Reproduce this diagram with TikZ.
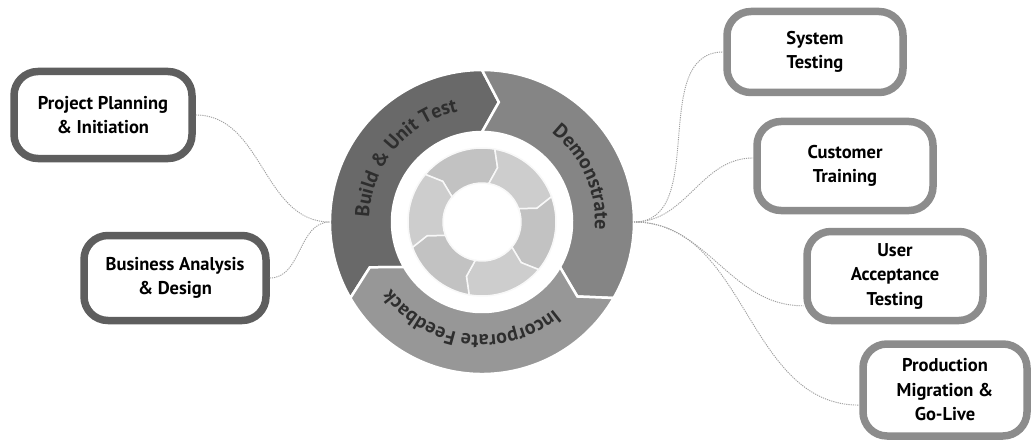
\documentclass[tikz,border=0pt]{standalone}
\usepackage{fontspec}
\setmainfont{PT Sans}
\usetikzlibrary{decorations.text}
\definecolor{segA}{HTML}{696969}
\definecolor{segB}{HTML}{858585}
\definecolor{segC}{HTML}{979797}
\definecolor{innerA}{HTML}{C2C2C2}
\definecolor{innerB}{HTML}{CDCDCD}
\definecolor{ringtext}{HTML}{2E2E2E}
\definecolor{boxdark}{HTML}{5E5E5E}
\definecolor{boxlight}{HTML}{8C8C8C}
\definecolor{linkgray}{HTML}{A0A0A0}
\newcommand\ringfont{\fontsize{20pt}{20pt}\selectfont\bfseries\color{ringtext}}
\begin{document}
\begin{tikzpicture}[x=1pt,y=1pt,
  box/.style={draw=boxdark, line width=7.5pt, rounded corners=24pt, fill=white,
    align=center, text=black, inner sep=0pt,
    font=\bfseries\fontsize{18.5pt}{24.5pt}\selectfont},
  lightbox/.style={box, draw=boxlight},
  link/.style={draw=linkgray, line width=0.9pt, dash pattern=on 1.2pt off 1pt},
  seg/.style={draw=white, line width=2.5pt},
  ringlabel/.style={decorate, decoration={text along path, text align=center, text={|\ringfont|#1}}}
]
\fill[white] (0,0) rectangle (1033,440);
\useasboundingbox (0,0) rectangle (1033,440);

% central ring
\coordinate (c) at (482,218);
\node[circle, minimum size=304pt, inner sep=0pt, outer sep=0pt] (ring) at (c) {};
\begin{scope}[shift={(482,218)}]
  \filldraw[seg, fill=segA] (210:152pt) arc[start angle=210, end angle=90, radius=152pt]
    -- (82:121pt) -- (90:90pt) arc[start angle=90, end angle=210, radius=90pt]
    -- (202:121pt) -- cycle;
  \filldraw[seg, fill=segB] (90:152pt) arc[start angle=90, end angle=-30, radius=152pt]
    -- (-38:121pt) -- (-30:90pt) arc[start angle=-30, end angle=90, radius=90pt]
    -- (82:121pt) -- cycle;
  \filldraw[seg, fill=segC] (-30:152pt) arc[start angle=-30, end angle=-150, radius=152pt]
    -- (-158:121pt) -- (-150:90pt) arc[start angle=-150, end angle=-30, radius=90pt]
    -- (-38:121pt) -- cycle;
  \foreach \a/\b/\col in {140/80/innerA, 80/20/innerB, 20/-40/innerA, -40/-100/innerB, -100/-160/innerA, -160/-220/innerB}{
    \filldraw[fill=\col, draw=white!85!innerB, line width=1.5pt] (\a:74pt) arc[start angle=\a, end angle=\b, radius=74pt]
      -- ({\b-6}:56.5pt) -- (\b:39pt) arc[start angle=\b, end angle=\a, radius=39pt]
      -- ({\a-6}:56.5pt) -- cycle;
  }
  \path[ringlabel={Build {\&} Unit Test}] (200:113pt) arc[start angle=200, end angle=80, radius=113pt];
  \path[ringlabel={Demonstrate}] (84:113pt) arc[start angle=84, end angle=-36, radius=113pt];
  \path[ringlabel={Incorporate Feedback}] (-37:113pt) arc[start angle=-37, end angle=-157, radius=113pt];
\end{scope}

% boxes
\node[box, minimum width=178pt, minimum height=87pt] (pp) at (103,325) {Project Planning\\ \& Initiation};
\node[box, minimum width=182pt, minimum height=85pt] (ba) at (175,162) {Business Analysis\\ \& Design};
\node[lightbox, minimum width=176pt, minimum height=81pt] (st) at (815,388) {System\\ Testing};
\node[lightbox, minimum width=176pt, minimum height=89pt] (ct) at (845,274) {Customer\\ Training};
\node[lightbox, minimum width=176pt, minimum height=89pt] (uat) at (895,164) {User\\ Acceptance\\ Testing};
\node[lightbox, minimum width=164pt, minimum height=92pt] (pm) at (945,50) {Production\\ Migration \&\\ Go-Live};

% connectors
\draw[link] (pp.east) to[out=0, in=180] (ring.west);
\draw[link] (ba.east) to[out=0, in=180] (ring.west);
\draw[link] (ring.east) to[out=0, in=180] (st.west);
\draw[link] (ring.east) to[out=0, in=180] (ct.175);
\draw[link] (ring.east) to[out=0, in=180] (uat.198);
\draw[link] (ring.east) to[out=0, in=180] (pm.190);
\end{tikzpicture}
\end{document}
